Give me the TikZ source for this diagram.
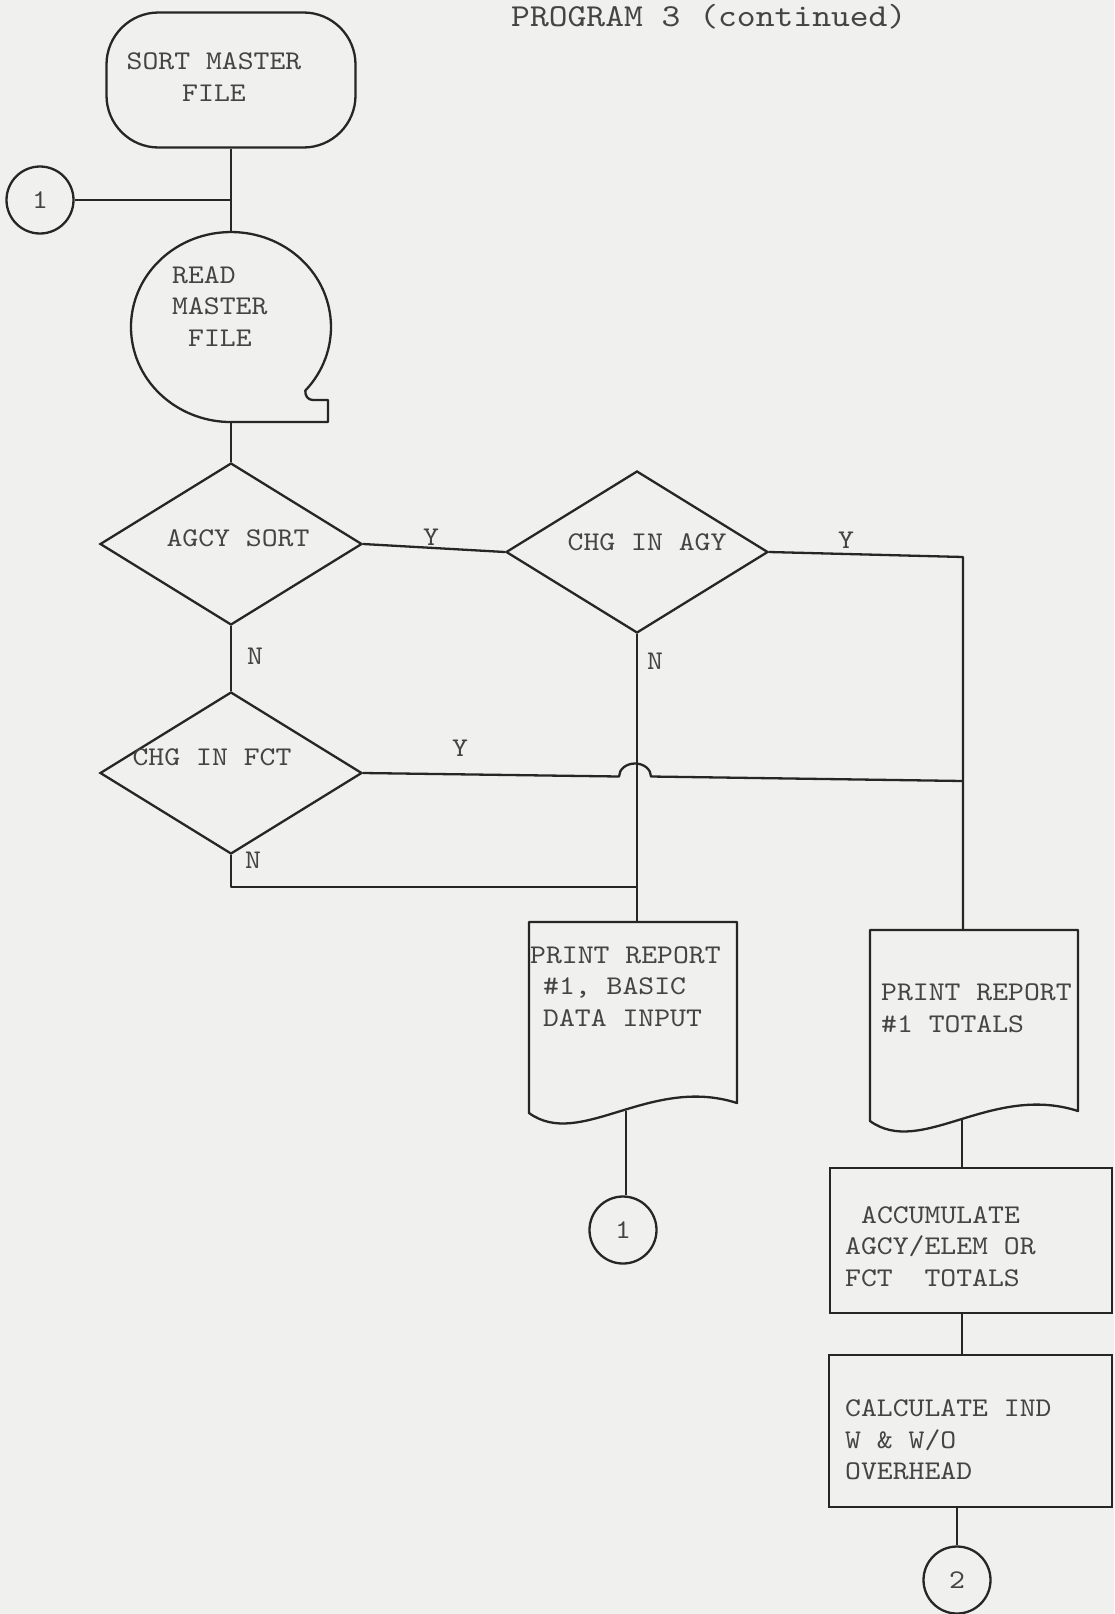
\documentclass[tikz,border=0pt]{standalone}
\usepackage{fontspec}
\newfontfamily\twfont{lmmono10-regular.otf}[FakeStretch=1.12]
\usetikzlibrary{shapes.geometric}
\definecolor{bg}{RGB}{240,240,238}
\definecolor{ink}{RGB}{38,38,38}
\definecolor{txt}{RGB}{68,68,68}
\newcommand\lblfont{\twfont\fontsize{27}{31.5}\selectfont}
\newcommand\ttlfont{\twfont\fontsize{32}{38}\selectfont}
\begin{document}
\begin{tikzpicture}[x=1pt,y=-1pt,
  lin/.style={draw=ink, line width=2.3pt, line join=round},
  dec/.style={diamond, draw=ink, line width=2.3pt, minimum width=262pt, minimum height=162pt, inner sep=0pt},
  conn/.style={circle, draw=ink, line width=2.3pt, minimum size=67pt, inner sep=0pt, font=\lblfont, text=txt},
  box/.style={rectangle, draw=ink, line width=2.3pt, inner sep=0pt},
  lbl/.style={font=\lblfont, text=txt, inner sep=0pt},
  ]
\useasboundingbox (0,0) rectangle (1114,1614);
\fill[bg] (0,0) rectangle (1114,1614);

% title
\node[font=\ttlfont, text=txt, anchor=base west, inner sep=0pt] (title) at (511,26) {PROGRAM 3 (continued)};

% terminal
\node[box, rounded corners=52pt, minimum width=249pt, minimum height=135pt] (term) at (231,80) {};
\node[lbl, align=center] (termt) at (214,77) {SORT MASTER\\FILE};

% connector 1 (entry)
\node[conn] (c1a) at (40,200) {1};

% read master file (tape symbol)
\coordinate (rtop) at (231,232);
\coordinate (rbot) at (231,422);
\draw[lin] (305.3,390.6) arc[start angle=42, end angle=-270, x radius=100, y radius=95]
   -- (328,422) -- (328,400) -- (313,400) .. controls (308,400) and (305,396) .. cycle;
\node[lbl, align=left, anchor=west] (readt) at (172,306.5) {READ\\MASTER\\\hspace*{16pt}FILE};

% decisions
\node[dec] (agcy) at (231,544) {};
\node[lbl] (agcyt) at (238,538) {AGCY SORT};
\node[dec] (agy) at (637,552) {};
\node[lbl] (agyt) at (647,542) {CHG IN AGY};
\node[dec] (fct) at (231,773) {};
\node[lbl] (fctt) at (212,757) {CHG IN FCT};

% documents
\draw[lin] (529,922) -- (737,922) -- (737,1103) .. controls (650,1075) and (580,1150) .. (529,1113) -- cycle;
\node[lbl, align=left, anchor=west] (doc1t) at (530,986.5) {PRINT REPORT\\\hspace*{13pt}\#1, BASIC\\\hspace*{13pt}DATA INPUT};
\draw[lin] (870,930) -- (1078,930) -- (1078,1111) .. controls (991,1083) and (921,1158) .. (870,1121) -- cycle;
\node[lbl, align=left, anchor=west] (doc2t) at (881,1008) {PRINT REPORT\\\#1 TOTALS};

\coordinate (d1top) at (637,922);
\coordinate (d1bot) at (626,1111);
\coordinate (d2top) at (963,930);
\coordinate (d2bot) at (962,1119);

% connector 1 (exit)
\node[conn] (c1b) at (623,1230) {1};

% process boxes
\node[box, minimum width=282pt, minimum height=145pt] (acc) at (971,1240.5) {};
\node[lbl, align=left, anchor=west] (acct) at (845,1246.5) {\hspace*{16pt}ACCUMULATE\\AGCY/ELEM OR\\FCT\ \ TOTALS};
\node[box, minimum width=283pt, minimum height=152pt] (calc) at (970.5,1431) {};
\node[lbl, align=left, anchor=west] (calct) at (845,1440) {CALCULATE IND\\W \& W/O\\OVERHEAD};

% connector 2
\node[conn] (c2) at (957,1580) {2};

% junction coordinates
\coordinate (cY) at (963,557);
\coordinate (hopL) at (619,776.5);
\coordinate (cF) at (963,781);
\coordinate (cN) at (637,887);

% connectors
\draw[lin] (term.south) -- (rtop);
\draw[lin] (c1a.east) -- (c1a.east -| rtop);
\draw[lin] (rbot) -- (agcy.north);
\draw[lin] (agcy.east) -- (agy.west);
\draw[lin] (agy.east) -- (cY) -- (d2top);
\draw[lin] (agcy.south) -- (fct.north);
\draw[lin] (fct.east) -- (hopL) arc[start angle=180, end angle=360, x radius=16, y radius=13] -- (cF);
\draw[lin] (fct.south) |- (cN);
\draw[lin] (agy.south) -- (d1top);
\draw[lin] (d1bot) -- (d1bot |- c1b.north);
\draw[lin] (d2bot) -- (d2bot |- acc.north);
\draw[lin] (acc.south -| d2bot) -- (calc.north -| d2bot);
\draw[lin] (calc.south -| c2.north) -- (c2.north);

% branch labels
\node[lbl] (y1) at (431,537) {Y};
\node[lbl] (y2) at (846,540) {Y};
\node[lbl] (n1) at (255,656) {N};
\node[lbl] (y3) at (460,748) {Y};
\node[lbl] (n2) at (655,661) {N};
\node[lbl] (n3) at (253,860) {N};
\end{tikzpicture}
\end{document}
